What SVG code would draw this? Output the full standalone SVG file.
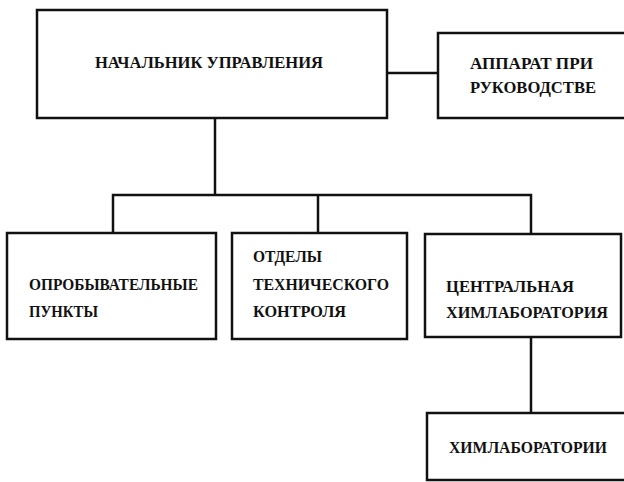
<svg xmlns="http://www.w3.org/2000/svg" width="624" height="482" viewBox="0 0 624 482">
<style>
.box{fill:#fff;stroke:#111;stroke-width:2.5}
.ln{fill:none;stroke:#111;stroke-width:2.5}
.t{font-family:"Liberation Serif","Times New Roman",serif;font-weight:bold;font-size:17px;fill:#111}
</style>
<rect width="624" height="482" fill="#fff"/>
<g id="connectors">
<path class="ln" d="M387,73 H438"/>
<path class="ln" d="M215,118 V195"/>
<path class="ln" d="M113,233 V195 H531 V234"/>
<path class="ln" d="M318,195 V233"/>
<path class="ln" d="M531,337 V413"/>
</g>
<g id="n-head">
<rect class="box" x="37" y="10" width="350" height="108"/>
<text class="t" x="95" y="68" textLength="228" lengthAdjust="spacingAndGlyphs">НАЧАЛЬНИК УПРАВЛЕНИЯ</text>
</g>
<g id="n-apparat">
<rect class="box" x="438" y="33" width="192" height="85"/>
<text class="t" x="470" y="69" textLength="123" lengthAdjust="spacingAndGlyphs">АППАРАТ ПРИ</text>
<text class="t" x="470" y="93" textLength="126" lengthAdjust="spacingAndGlyphs">РУКОВОДСТВЕ</text>
</g>
<g id="n-oprob">
<rect class="box" x="7" y="233" width="209" height="106"/>
<text class="t" x="29" y="290" textLength="169" lengthAdjust="spacingAndGlyphs">ОПРОБЫВАТЕЛЬНЫЕ</text>
<text class="t" x="29" y="317" textLength="69" lengthAdjust="spacingAndGlyphs">ПУНКТЫ</text>
</g>
<g id="n-otk">
<rect class="box" x="232" y="233" width="175" height="106"/>
<text class="t" x="253" y="262" textLength="69" lengthAdjust="spacingAndGlyphs">ОТДЕЛЫ</text>
<text class="t" x="253" y="290" textLength="136" lengthAdjust="spacingAndGlyphs">ТЕХНИЧЕСКОГО</text>
<text class="t" x="253" y="317" textLength="93" lengthAdjust="spacingAndGlyphs">КОНТРОЛЯ</text>
</g>
<g id="n-central">
<rect class="box" x="425" y="234" width="196" height="103"/>
<text class="t" x="446" y="292" textLength="128" lengthAdjust="spacingAndGlyphs">ЦЕНТРАЛЬНАЯ</text>
<text class="t" x="446" y="318" textLength="162" lengthAdjust="spacingAndGlyphs">ХИМЛАБОРАТОРИЯ</text>
</g>
<g id="n-labs">
<rect class="box" x="427" y="413" width="203" height="67"/>
<text class="t" x="449" y="453" textLength="158" lengthAdjust="spacingAndGlyphs">ХИМЛАБОРАТОРИИ</text>
</g>
</svg>
